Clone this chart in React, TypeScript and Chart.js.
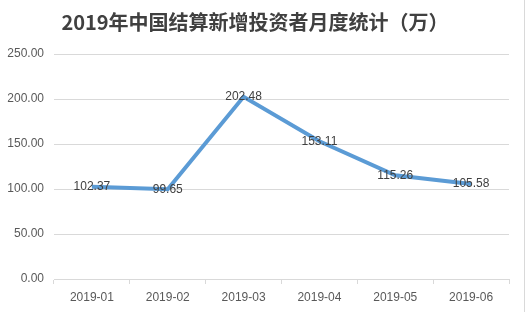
import React, { useEffect, useRef } from "react";
import { Chart, registerables } from "chart.js";

Chart.register(...registerables);

const TITLE = "2019年中国结算新增投资者月度统计（万）";
const categories = ["2019-01", "2019-02", "2019-03", "2019-04", "2019-05", "2019-06"];
const values = [102.37, 99.65, 202.48, 153.11, 115.26, 105.58];
const yTicks = [0, 50, 100, 150, 200, 250];

const FONT = "'Liberation Sans', 'Noto Sans', sans-serif";

export default function App() {
  const ref = useRef<HTMLCanvasElement | null>(null);
  useEffect(() => {
    if (!ref.current) return;
    const decor = {
      id: "decor",
      afterDraw(chart: any) {
        const ctx = chart.ctx;
        ctx.save();
        ctx.font = `bold 20px 'Noto Sans CJK SC', sans-serif`;
        ctx.fillStyle = "#404040";
        ctx.textAlign = "center";
        ctx.textBaseline = "middle";
        ctx.fillText(TITLE, 255, 22);
        ctx.strokeStyle = "#D9D9D9";
        ctx.lineWidth = 1;
        ctx.beginPath();
        ctx.moveTo(524.5, 0);
        ctx.lineTo(524.5, 312);
        ctx.stroke();
        const meta = chart.getDatasetMeta(0);
        ctx.font = `12px ${FONT}`;
        ctx.fillStyle = "#404040";
        meta.data.forEach((pt: any, i: number) => {
          ctx.fillText(values[i].toFixed(2), pt.x, pt.y);
        });
        ctx.restore();
      },
    };
    const chart = new Chart(ref.current, {
      type: "line",
      data: {
        labels: categories,
        datasets: [
          {
            data: values,
            borderColor: "#5B9BD5",
            borderWidth: 4,
            pointRadius: 0,
            tension: 0,
            fill: false,
          },
        ],
      },
      options: {
        animation: false,
        responsive: false,
        maintainAspectRatio: false,
        layout: { padding: { top: 54, right: 17, left: 0, bottom: 0 } },
        plugins: { legend: { display: false }, title: { display: false }, tooltip: { enabled: false } },
        scales: {
          x: {
            type: "category",
            offset: true,
            grid: {
              display: true,
              offset: true,
              drawOnChartArea: false,
              drawTicks: true,
              tickLength: 5,
              color: "#D9D9D9",
            },
            border: { display: true, color: "#D9D9D9" },
            ticks: { color: "#595959", font: { family: FONT, size: 12 }, padding: 6, maxRotation: 0 },
            afterFit: (s: any) => {
              s.height = 33;
            },
          },
          y: {
            min: 0,
            max: 250,
            afterBuildTicks: (s: any) => {
              s.ticks = yTicks.map((v) => ({ value: v }));
            },
            grid: { color: "#D9D9D9", drawTicks: false },
            border: { display: false },
            ticks: {
              color: "#595959",
              font: { family: FONT, size: 12 },
              padding: 10,
              callback: (v: any) => Number(v).toFixed(2),
            },
            afterFit: (s: any) => {
              s.width = 54;
            },
          },
        },
      },
      plugins: [decor],
    });
    return () => chart.destroy();
  }, []);
  return (
    <div style={{ position: "absolute", left: 0, top: 0, width: 526, height: 312, background: "#fff" }}>
      <canvas ref={ref} width={526} height={312} style={{ display: "block" }} />
    </div>
  );
}
